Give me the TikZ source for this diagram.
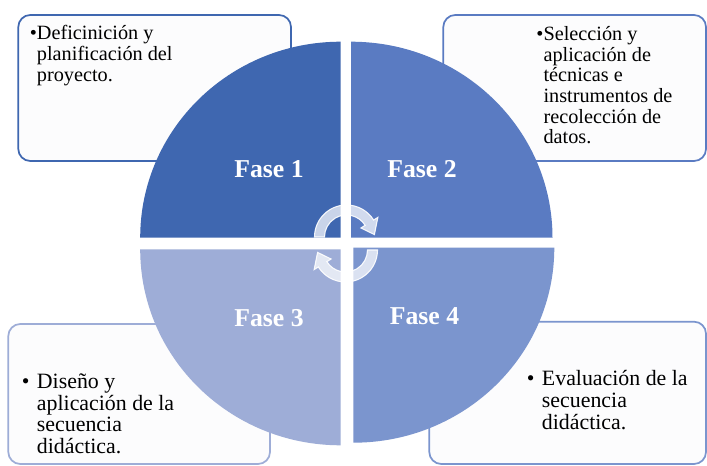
\documentclass[tikz,border=0pt]{standalone}
\usepackage{fontspec}
\setmainfont{Liberation Serif}
\definecolor{qone}{HTML}{3F67B0}
\definecolor{qtwo}{HTML}{5A7BC2}
\definecolor{qthree}{HTML}{9EADD7}
\definecolor{qfour}{HTML}{7B95CE}
\definecolor{boxfill}{HTML}{FCFCFD}
\newcommand{\mybul}{\leavevmode\llap{•}}
\newcommand{\mybulsp}{\leavevmode\llap{•\hspace{5.6pt}}}
\begin{document}
\begin{tikzpicture}[x=0.75pt,y=-0.75pt,
  box/.style={fill=boxfill, line width=1.3pt, rounded corners=9pt},
  toptext/.style={anchor=base west, inner sep=0pt, font=\fontsize{15.2}{15.5}\selectfont},
  bottext/.style={anchor=base west, inner sep=0pt, font=\fontsize{16.4}{16.3}\selectfont},
  fase/.style={text=white, inner sep=0pt, font=\fontsize{19.3}{23}\selectfont\bfseries},
  cyc/.style={fill=white, fill opacity=0.72, draw=white, draw opacity=0.9, line width=0.8pt}]
\clip (0,0) rectangle (707,466);
\fill[white] (0,0) rectangle (707,466);
% text boxes
\draw[box, draw=qone]   (18.3,15)   rectangle (291,161);
\draw[box, draw=qtwo]   (443.3,15)  rectangle (706,161);
\draw[box, draw=qthree] (8.3,324)   rectangle (270,464);
\draw[box, draw=qfour]  (429.3,321.7) rectangle (706,464);
% quadrants
\fill[qone]   (340.7,237.7) -- ++(-200.5,0) arc[start angle=180, end angle=270, x radius=200.5, y radius=196] -- cycle;
\fill[qtwo]   (351,237.7)   -- ++(0,-196)   arc[start angle=270, end angle=360, x radius=201.5, y radius=196] -- cycle;
\fill[qthree] (340.7,249.3) -- ++(-200.5,0) arc[start angle=180, end angle=90,  x radius=200.5, y radius=196] -- cycle;
\fill[qfour]  (353.3,247.7) -- ++(201,0)    arc[start angle=0,   end angle=90,  x radius=201,   y radius=195] -- cycle;
% box texts
\node[toptext] (t1) at (36.7,40) {\parbox[t]{200pt}{\mybul Deficinición y\\planificación del\\proyecto.}};
\node[toptext] (t2) at (543.3,40.5) {\parbox[t]{200pt}{\mybul Selección y\\aplicación de\\técnicas e\\instrumentos de\\recolección de\\datos.}};
\node[bottext] (t3) at (36.7,388.3) {\parbox[t]{200pt}{\mybulsp Diseño y\\aplicación de la\\secuencia\\didáctica.}};
\node[bottext] (t4) at (541.7,386) {\parbox[t]{200pt}{\mybulsp Evaluación de la\\secuencia\\didáctica.}};
% phase labels
\node[fase] (f1) at (269,169) {Fase 1};
\node[fase] (f2) at (422,169) {Fase 2};
\node[fase] (f3) at (269,317.7) {Fase 3};
\node[fase] (f4) at (424.5,316) {Fase 4};
% cycle arrows
\begin{scope}[shift={(346.5,237)}]
\path[cyc] (180:32) arc[start angle=180, end angle=328, radius=32] -- (328:37) -- (355:28) -- (328:17) -- (328:22) arc[start angle=328, end angle=180, radius=22] -- cycle;
\end{scope}
\begin{scope}[shift={(345.5,250)}]
\path[cyc] (0:32) arc[start angle=0, end angle=148, radius=32] -- (148:37) -- (175:28) -- (148:17) -- (148:22) arc[start angle=148, end angle=0, radius=22] -- cycle;
\end{scope}
\end{tikzpicture}
\end{document}
